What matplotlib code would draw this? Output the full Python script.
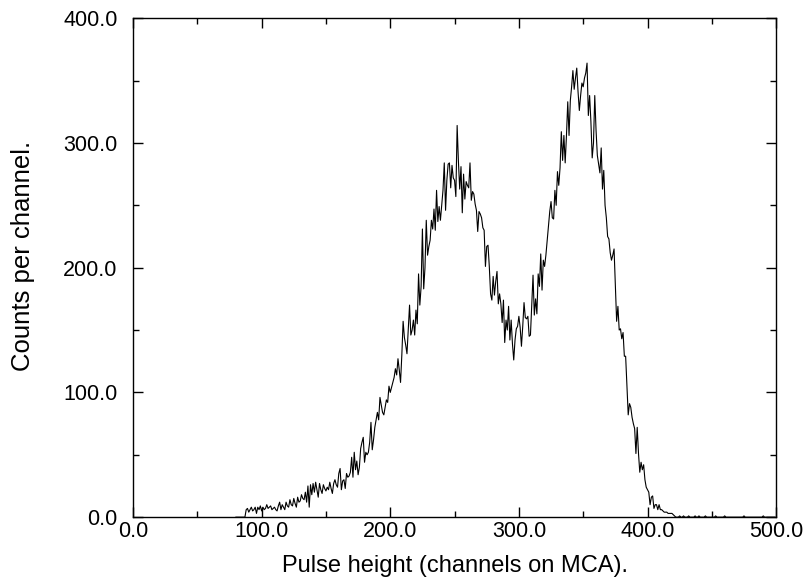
import matplotlib
matplotlib.use("Agg")
import matplotlib.pyplot as plt
import numpy as np
from matplotlib.ticker import MultipleLocator, FormatStrFormatter

# first channel of the list below; everything before it is zero
first_channel = 80

# counts per channel (channels 80..499)
counts = [
    0, 0, 0, 0, 0, 0, 0, 0, 6, 7,
    4, 6, 8, 5, 6, 8, 3, 8, 6, 9,
    5, 8, 6, 7, 10, 7, 8, 9, 6, 7,
    8, 6, 5, 9, 12, 6, 10, 8, 6, 12,
    9, 8, 14, 10, 9, 15, 11, 8, 16, 12,
    13, 18, 15, 14, 20, 12, 25, 8, 26, 18,
    27, 20, 28, 22, 16, 27, 22, 19, 26, 23,
    21, 24, 22, 28, 23, 19, 27, 30, 26, 24,
    35, 39, 22, 29, 30, 23, 35, 32, 33, 36,
    48, 32, 52, 38, 45, 34, 40, 55, 60, 64,
    44, 52, 50, 52, 60, 76, 54, 62, 72, 78,
    84, 78, 96, 90, 84, 82, 88, 94, 92, 105,
    100, 104, 108, 112, 119, 114, 127, 118, 108, 130,
    157, 144, 138, 131, 150, 170, 146, 150, 158, 146,
    166, 155, 195, 170, 185, 231, 183, 200, 238, 210,
    217, 222, 238, 231, 247, 230, 262, 237, 249, 238,
    250, 262, 284, 246, 270, 283, 284, 264, 282, 272,
    270, 257, 314, 285, 263, 281, 244, 275, 255, 269,
    266, 264, 284, 254, 261, 259, 251, 246, 229, 245,
    243, 240, 232, 230, 201, 217, 218, 201, 179, 174,
    193, 178, 189, 197, 171, 179, 171, 156, 174, 140,
    158, 150, 169, 142, 158, 139, 126, 142, 151, 153,
    161, 152, 137, 153, 172, 160, 159, 161, 145, 146,
    170, 194, 162, 175, 163, 195, 185, 211, 182, 206,
    201, 210, 222, 233, 245, 253, 240, 239, 262, 250,
    277, 266, 280, 309, 286, 306, 284, 306, 333, 306,
    334, 345, 358, 343, 352, 360, 341, 326, 338, 348,
    345, 352, 356, 364, 322, 338, 317, 288, 300, 338,
    310, 290, 283, 276, 296, 263, 278, 250, 240, 225,
    223, 212, 206, 210, 215, 185, 157, 169, 150, 151,
    143, 148, 129, 129, 105, 82, 91, 88, 80, 75,
    71, 51, 72, 51, 36, 44, 38, 42, 30, 24,
    22, 20, 10, 16, 17, 7, 10, 10, 6, 10,
    6, 6, 5, 4, 4, 4, 3, 3, 3, 3,
    2, 1, 0, 0, 0, 1, 0, 0, 1, 0,
    0, 0, 1, 0, 0, 0, 0, 1, 0, 0,
    1, 0, 0, 0, 0, 1, 0, 0, 0, 0,
    0, 0, 0, 1, 0, 0, 0, 0, 0, 0,
    1, 0, 0, 0, 0, 0, 0, 0, 0, 0,
    0, 0, 0, 0, 0, 1, 0, 0, 0, 0,
    0, 0, 0, 0, 0, 0, 0, 0, 0, 0,
    1, 0, 0, 0, 0, 0, 0, 0, 0, 0,
]
channels = np.arange(first_channel, first_channel + len(counts))

plt.rcParams['font.family'] = ['Liberation Sans', 'DejaVu Sans']

fig = plt.figure(figsize=(8.11, 5.87), dpi=100)
ax = fig.add_axes([0.164, 0.119, 0.793, 0.850])

ax.plot(channels, counts, color='black', linewidth=0.8)

ax.set_xlim(0, 500)
ax.set_ylim(0, 400)
ax.xaxis.set_major_locator(MultipleLocator(100))
ax.xaxis.set_minor_locator(MultipleLocator(50))
ax.yaxis.set_major_locator(MultipleLocator(100))
ax.yaxis.set_minor_locator(MultipleLocator(50))
ax.xaxis.set_major_formatter(FormatStrFormatter('%.1f'))
ax.yaxis.set_major_formatter(FormatStrFormatter('%.1f'))
ax.tick_params(which='both', direction='in', top=True, right=True,
               labelsize=15.5, width=1)
ax.tick_params(which='major', length=7)
ax.tick_params(which='minor', length=4)
ax.tick_params(axis='x', which='major', pad=3)
ax.tick_params(axis='y', which='major', pad=11)
for s in ax.spines.values():
    s.set_linewidth(1)

ax.set_xlabel('Pulse height (channels on MCA).', fontsize=17, labelpad=9)
ax.set_ylabel('Counts per channel.', fontsize=18.5)
ax.yaxis.set_label_coords(-0.152, 0.523)

fig.savefig('out.png', dpi=100)
